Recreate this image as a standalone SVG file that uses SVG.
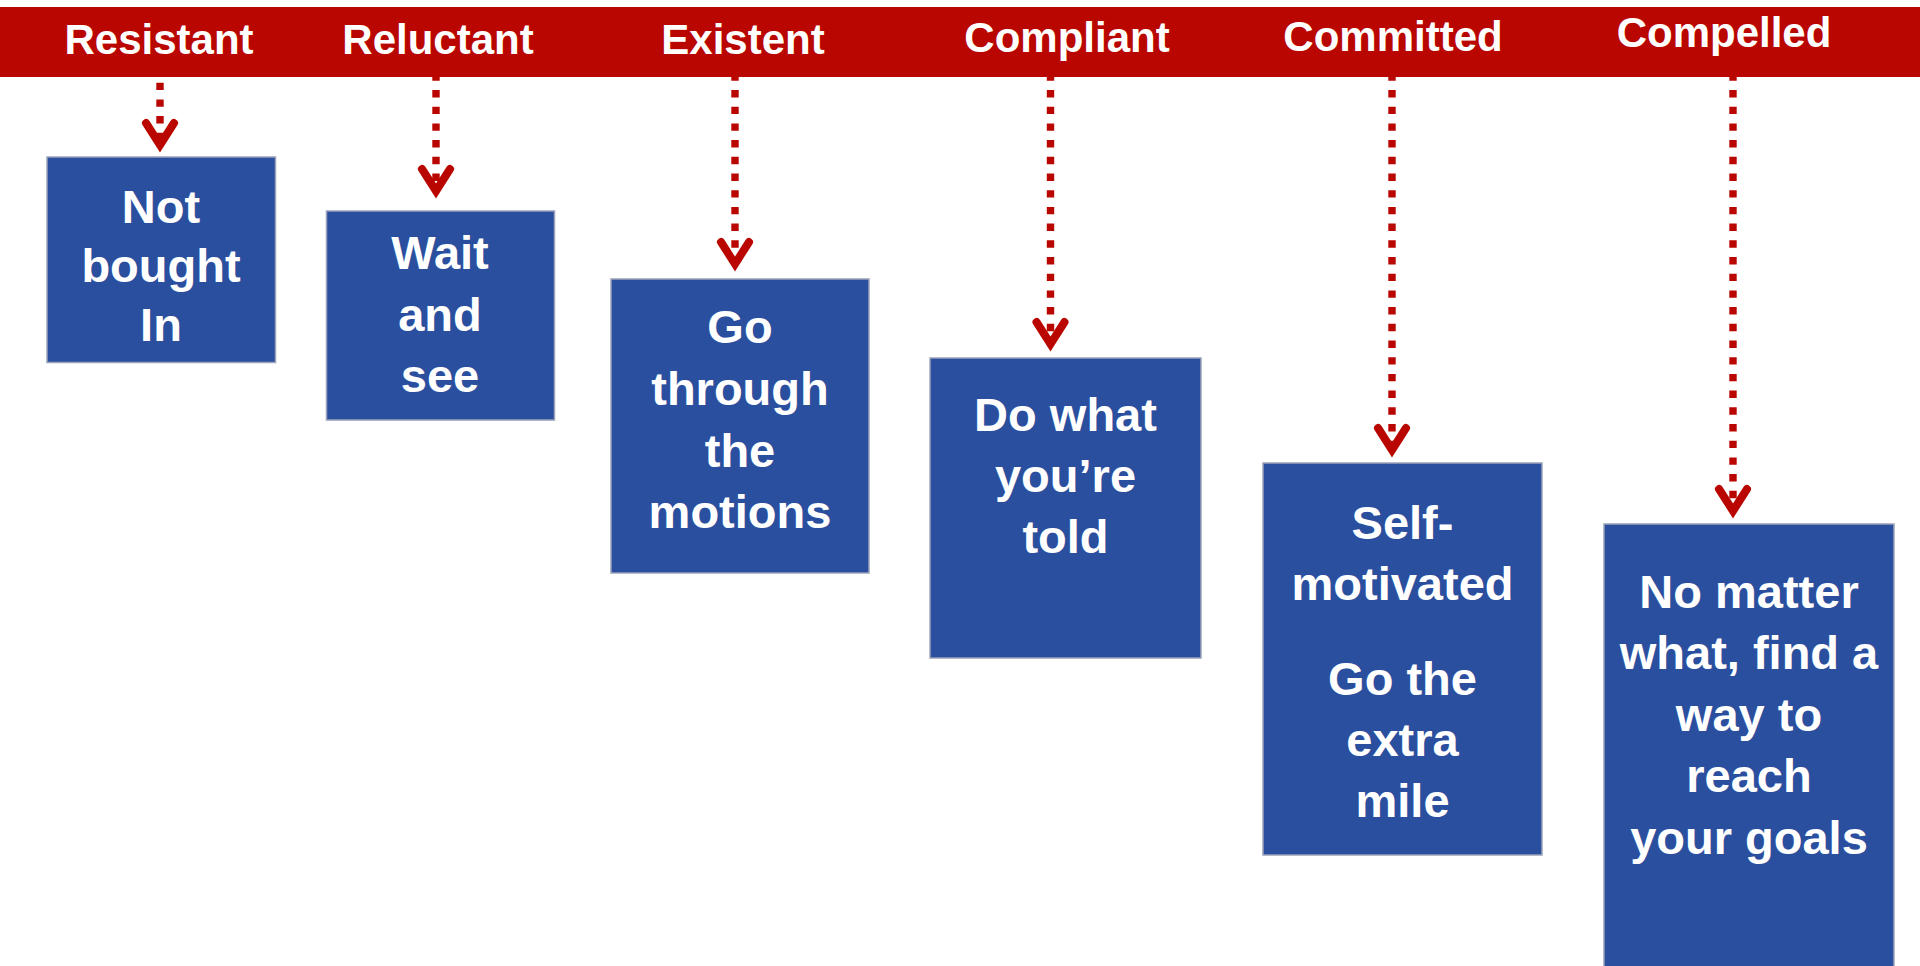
<svg xmlns="http://www.w3.org/2000/svg" width="1920" height="966" viewBox="0 0 1920 966">
<style>
.hdr{font-family:"Liberation Sans",Arial,sans-serif;font-weight:bold;font-size:42px;fill:#ffffff;text-anchor:middle}
.box{fill:#2B4F9F;stroke:#9AA3B8;stroke-width:1.5}
.txt{font-family:"Liberation Sans",Arial,sans-serif;font-weight:bold;font-size:47px;fill:#ffffff;text-anchor:middle}
.dash{stroke:#BA0600;stroke-width:7.4;stroke-dasharray:7.4 9.3;fill:none}
.head{stroke:#BA0600;stroke-width:8;fill:none;stroke-linecap:round;stroke-linejoin:miter;stroke-miterlimit:10}
</style>
<rect width="1920" height="966" fill="#ffffff"/>
<g id="header">
<rect x="0" y="7" width="1920" height="70" fill="#BA0600"/>
<text class="hdr" x="159" y="54">Resistant</text>
<text class="hdr" x="438" y="54">Reluctant</text>
<text class="hdr" x="743" y="54">Existent</text>
<text class="hdr" x="1067" y="52">Compliant</text>
<text class="hdr" x="1393" y="51">Committed</text>
<text class="hdr" x="1724" y="47">Compelled</text>
</g>
<g id="connectors">
<line class="dash" x1="160" y1="82.7" x2="160" y2="140"/>
<path class="head" d="M146 123 L160 145 L174 123"/>
<line class="dash" x1="436" y1="73.3" x2="436" y2="186"/>
<path class="head" d="M422 169 L436 191 L450 169"/>
<line class="dash" x1="735" y1="73.3" x2="735" y2="259"/>
<path class="head" d="M721 242 L735 264 L749 242"/>
<line class="dash" x1="1050.5" y1="73.3" x2="1050.5" y2="339"/>
<path class="head" d="M1036.5 322 L1050.5 344 L1064.5 322"/>
<line class="dash" x1="1392" y1="73.3" x2="1392" y2="445"/>
<path class="head" d="M1378 428 L1392 450 L1406 428"/>
<line class="dash" x1="1733" y1="73.3" x2="1733" y2="506"/>
<path class="head" d="M1719 489 L1733 511 L1747 489"/>
</g>
<g id="node-resistant">
<rect class="box" x="47" y="157" width="228.5" height="205.5"/>
<text class="txt" x="161" y="223">Not</text>
<text class="txt" x="161" y="282">bought</text>
<text class="txt" x="161" y="341">In</text>
</g>
<g id="node-reluctant">
<rect class="box" x="326.5" y="211" width="228" height="209"/>
<text class="txt" x="440" y="269">Wait</text>
<text class="txt" x="440" y="331">and</text>
<text class="txt" x="440" y="392">see</text>
</g>
<g id="node-existent">
<rect class="box" x="611" y="279" width="258" height="294"/>
<text class="txt" x="740" y="343">Go</text>
<text class="txt" x="740" y="405">through</text>
<text class="txt" x="740" y="467">the</text>
<text class="txt" x="740" y="528">motions</text>
</g>
<g id="node-compliant">
<rect class="box" x="930" y="358" width="271" height="300"/>
<text class="txt" x="1065.5" y="431">Do what</text>
<text class="txt" x="1065.5" y="492">you’re</text>
<text class="txt" x="1065.5" y="553">told</text>
</g>
<g id="node-committed">
<rect class="box" x="1263" y="463" width="279" height="392"/>
<text class="txt" x="1402.5" y="539">Self-</text>
<text class="txt" x="1402.5" y="600">motivated</text>
<text class="txt" x="1402.5" y="695">Go the</text>
<text class="txt" x="1402.5" y="756">extra</text>
<text class="txt" x="1402.5" y="817">mile</text>
</g>
<g id="node-compelled">
<rect class="box" x="1604" y="524" width="290" height="452"/>
<text class="txt" x="1749" y="608">No matter</text>
<text class="txt" x="1749" y="669">what, find a</text>
<text class="txt" x="1749" y="731">way to</text>
<text class="txt" x="1749" y="792">reach</text>
<text class="txt" x="1749" y="854">your goals</text>
</g>
</svg>
